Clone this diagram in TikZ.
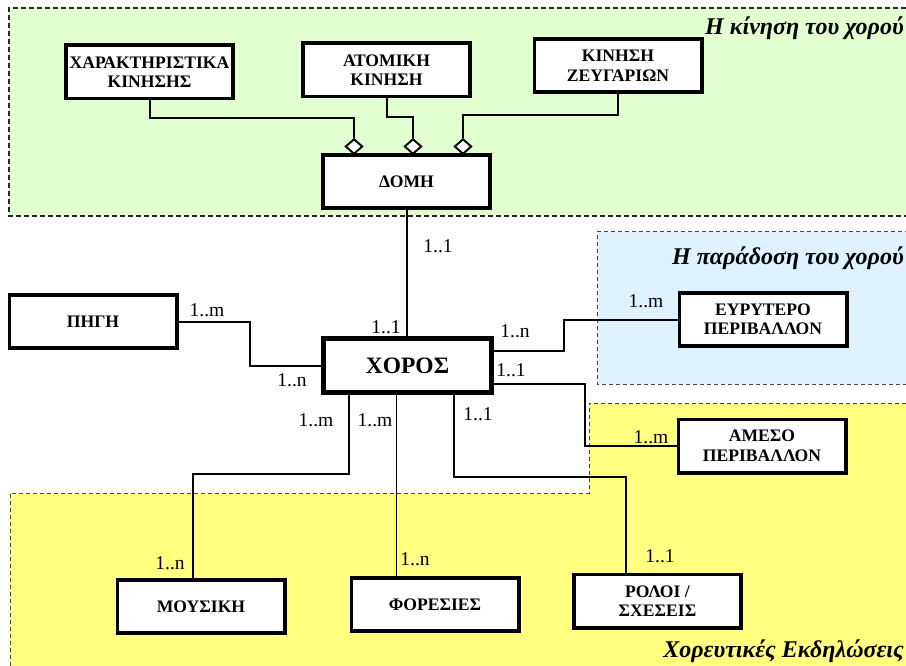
\documentclass[tikz,border=0pt]{standalone}
\usepackage{fontspec}
\setmainfont{Liberation Serif}
\usetikzlibrary{shapes.geometric,calc}

\definecolor{zoneGreen}{RGB}{226,255,208}
\definecolor{zoneBlue}{RGB}{223,242,255}
\definecolor{zoneYellow}{RGB}{255,255,128}
\definecolor{zoneEdge}{RGB}{70,70,70}

\begin{document}
\begin{tikzpicture}[x=1pt,y=-1pt,
  entity/.style={draw,line width=2.5pt,fill=white,minimum width=166pt,
    minimum height=52pt,align=center,inner sep=2pt,
    font=\fontsize{17.6}{19.5}\selectfont\bfseries},
  mainentity/.style={entity,line width=3.6pt,font=\fontsize{23.5}{25}\selectfont\bfseries},
  agg/.style={diamond,draw,fill=white,line width=1.8pt,inner sep=0pt,
    minimum width=17pt,minimum height=15pt},
  conn/.style={line width=2pt},
  thinconn/.style={line width=0.9pt},
  mult/.style={inner sep=0pt,font=\fontsize{19.5}{21}\selectfont},
  zonetitle/.style={inner sep=0pt,anchor=base east,font=\fontsize{24}{26}\selectfont\bfseries\itshape},
  zoneline/.style={draw=zoneEdge,line width=1pt,dash pattern=on 4pt off 3pt},
  zonelinebold/.style={draw=black!85,line width=1.8pt,dash pattern=on 5pt off 3pt}
]
\clip (0,0) rectangle (906,666);
\fill[white] (0,0) rectangle (906,666);

% background zones
\fill[zoneGreen] (9,8) rectangle (930,216);
\draw[zonelinebold] (930,8) -- (9,8) -- (9,216) -- (930,216);
\fill[zoneBlue] (597,232) rectangle (930,384);
\draw[zoneline] (930,232) -- (597,232) -- (597,384) -- (930,384);
\fill[zoneYellow] (10,680) -- (10,493) -- (589,493) -- (589,403) -- (930,403) -- (930,680) -- cycle;
\draw[zoneline] (10,680) -- (10,493) -- (589,493) -- (589,403) -- (930,403);

\node[zonetitle] (t1) at (904,35) {Η κίνηση του χορού};
\node[zonetitle] (t2) at (904,265) {Η παράδοση του χορού};
\node[zonetitle] (t3) at (904,657) {Χορευτικές Εκδηλώσεις};

% entities
\node[entity] (char) at (149.5,72) {ΧΑΡΑΚΤΗΡΙΣΤΙΚΑ\\ΚΙΝΗΣΗΣ};
\node[entity] (atom) at (386.5,70) {ΑΤΟΜΙΚΗ\\ΚΙΝΗΣΗ};
\node[entity] (zeug) at (618,65.5) {ΚΙΝΗΣΗ\\ΖΕΥΓΑΡΙΩΝ};
\node[entity] (domi) at (406.5,181.5) {ΔΟΜΗ};
\node[mainentity] (choros) at (407.5,365.5) {ΧΟΡΟΣ};
\node[entity] (pigi) at (93,321.5) {ΠΗΓΗ};
\node[entity] (eyr) at (763,319.5) {ΕΥΡΥΤΕΡΟ\\ΠΕΡΙΒΑΛΛΟΝ};
\node[entity] (ames) at (762,446) {ΑΜΕΣΟ\\ΠΕΡΙΒΑΛΛΟΝ};
\node[entity] (mous) at (201,606.5) {ΜΟΥΣΙΚΗ};
\node[entity] (fores) at (435,604.5) {ΦΟΡΕΣΙΕΣ};
\node[entity] (roloi) at (657.5,601) {ΡΟΛΟΙ /\\ΣΧΕΣΕΙΣ};

% aggregation diamonds on top of ΔΟΜΗ
\node[agg] (d1) at (354,146.5) {};
\node[agg] (d2) at (413,146.5) {};
\node[agg] (d3) at (463,146.5) {};

% connectors
\draw[conn] (char.south) -- (char.south |- 0,118) -| (d1.north);
\draw[conn] (atom.south) -- (atom.south |- 0,117) -| (d2.north);
\draw[conn] (zeug.south) -- (zeug.south |- 0,115) -| (d3.north);
\draw[conn] (domi.south) -- (domi.south |- choros.north);
\draw[conn] (pigi.east) -| (250,340) |- (choros.west);
\draw[conn] ([yshift=14.5pt]choros.east) -| (564,330) |- (eyr.west);
\draw[conn] ([yshift=-18.5pt]choros.east) -| (585,420) |- (ames.west);
\draw[conn] ([xshift=-58.5pt]choros.south) |- (300,474) -| ([xshift=-8pt]mous.north);
\draw[thinconn] ([xshift=-11.5pt]choros.south) -- ([xshift=-39pt]fores.north);
\draw[conn] ([xshift=46.5pt]choros.south) |- (540,477) -| ([xshift=-31.5pt]roloi.north);

% box borders drawn again over the connector ends
\foreach \n in {char,atom,zeug,domi,pigi,eyr,ames,mous,fores,roloi}
  \draw[line width=2.5pt] (\n.north west) rectangle (\n.south east);
\draw[line width=3.6pt] (choros.north west) rectangle (choros.south east);
\node[agg] at (d1) {};
\node[agg] at (d2) {};
\node[agg] at (d3) {};

% multiplicities
\node[mult] (m1) at (438,246) {1..1};
\node[mult] (m2) at (386,327) {1..1};
\node[mult] (m3) at (207,310) {1..m};
\node[mult] (m4) at (292,380) {1..n};
\node[mult] (m5) at (515,331) {1..n};
\node[mult] (m6) at (646,301) {1..m};
\node[mult] (m7) at (511,370) {1..1};
\node[mult] (m8) at (651,437) {1..m};
\node[mult] (m9) at (316,420) {1..m};
\node[mult] (m10) at (375,420) {1..m};
\node[mult] (m11) at (478,414) {1..1};
\node[mult] (m12) at (170,563) {1..n};
\node[mult] (m13) at (415,559) {1..n};
\node[mult] (m14) at (660,556) {1..1};
\end{tikzpicture}
\end{document}
